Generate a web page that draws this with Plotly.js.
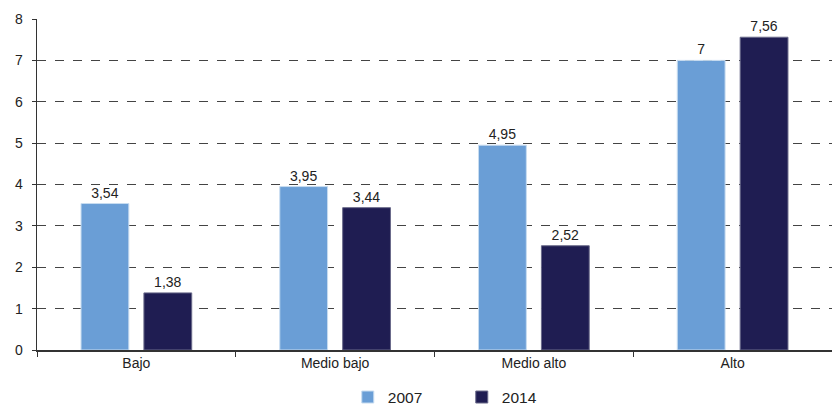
<!DOCTYPE html>
<html><head><meta charset="utf-8">
<script src="https://cdn.plot.ly/plotly-3.0.1.min.js"></script>
<style>html,body{margin:0;padding:0;background:#fff}</style>
</head><body>
<div id="chart" style="width:832px;height:406px"></div>
<script>
const categories = ["Bajo", "Medio bajo", "Medio alto", "Alto"];
const values2007 = [3.54, 3.95, 4.95, 7];
const values2014 = [1.38, 3.44, 2.52, 7.56];
const labels2007 = ["3,54", "3,95", "4,95", "7"];
const labels2014 = ["1,38", "3,44", "2,52", "7,56"];
const yTicks = [0, 1, 2, 3, 4, 5, 6, 7, 8];

const common = {type: "bar", x: categories, textposition: "outside", cliponaxis: false,
  textfont: {family: "Liberation Sans, Arial, sans-serif", size: 14, color: "#222"}};
const data = [
  Object.assign({}, common, {name: "2007", y: values2007, text: labels2007,
    marker: {color: "#6a9ed6", line: {color: "#c8dcf0", width: 1}}}),
  Object.assign({}, common, {name: "2014", y: values2014, text: labels2014,
    marker: {color: "#1f1d52", line: {color: "#6a6a8a", width: 1}}})
];
const layout = {
  width: 832, height: 406,
  margin: {l: 37, r: 0, t: 19, b: 56, autoexpand: false},
  paper_bgcolor: "#fff", plot_bgcolor: "#fff",
  font: {family: "Liberation Sans, Arial, sans-serif", size: 14, color: "#222"},
  barmode: "group", bargap: 0.367, bargroupgap: 0.24,
  showlegend: true,
  legend: {orientation: "h", xref: "container", yref: "paper",
    x: 0.418, xanchor: "left", y: -0.092, yanchor: "top",
    font: {size: 15.5, color: "#222"}, itemwidth: 30, entrywidth: 69,
    entrywidthmode: "pixels", traceorder: "normal", tracegroupgap: 0},
  xaxis: {type: "category", tickson: "boundaries", ticks: "outside", ticklen: 5,
    tickcolor: "#333", showline: true, linecolor: "#333", linewidth: 1.5,
    showgrid: false, tickfont: {size: 14}},
  yaxis: {range: [0, 8], tickvals: yTicks, ticktext: yTicks.map(String),
    ticks: "outside", ticklen: 4, tickcolor: "#333", showline: true, linecolor: "#333",
    linewidth: 1.5, showgrid: true, gridcolor: "#444", griddash: "dash", gridwidth: 1,
    zeroline: false, tickfont: {size: 14}, ticklabelstandoff: 6}
};
Plotly.newPlot("chart", data, layout, {displayModeBar: false, staticPlot: true});
</script>
</body></html>
